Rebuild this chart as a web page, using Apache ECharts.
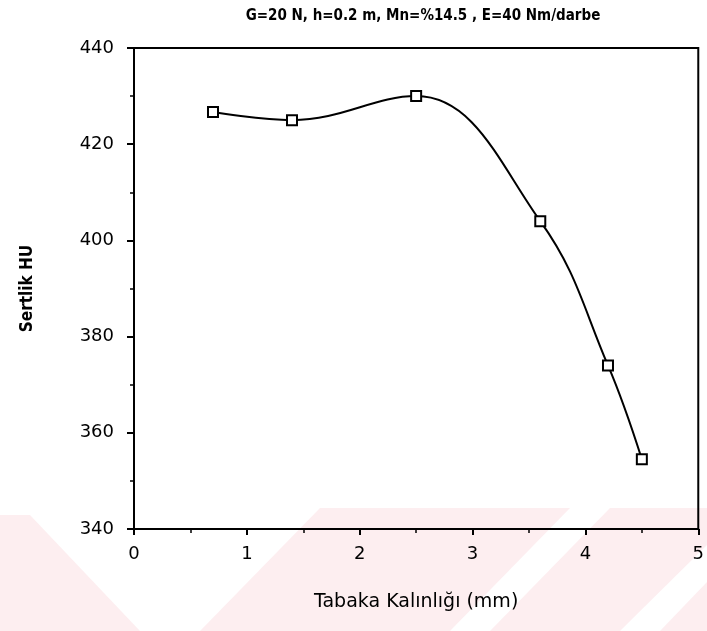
<!DOCTYPE html>
<html>
<head>
<meta charset="utf-8">
<script src="https://cdn.jsdelivr.net/npm/echarts@6/dist/echarts.min.js"></script>
<style>
  html, body { margin: 0; padding: 0; background: #fff; }
  #chart { width: 707px; height: 631px; }
</style>
</head>
<body>
<div id="chart"></div>
<script>
  // veriler
  var thickness = [0.7, 1.4, 2.5, 3.6, 4.2, 4.5];
  var hardness = [426.7, 425.0, 430.0, 404.0, 374.0, 354.5];
  var titleText = 'G=20 N, h=0.2 m, Mn=%14.5 , E=40 Nm/darbe';
  var xName = 'Tabaka Kalınlığı (mm)';
  var yName = 'Sertlik HU';

  var chart = echarts.init(document.getElementById('chart'));
  var pink = 'rgba(235, 40, 60, 0.08)';

  var points = thickness.map(function (x, i) { return [x, hardness[i]]; });

  var option = {
    backgroundColor: '#fff',
    animation: false,
    // arka plandaki soluk filigran
    graphic: [
      { type: 'polygon', z: -10, shape: { points: [[0, 515], [30, 515], [140, 631], [0, 631]] }, style: { fill: pink } },
      { type: 'polygon', z: -10, shape: { points: [[200, 631], [320, 508], [570, 508], [450, 631]] }, style: { fill: pink } },
      { type: 'polygon', z: -10, shape: { points: [[490, 631], [610, 508], [707, 508], [707, 545], [620, 631]] }, style: { fill: pink } },
      { type: 'polygon', z: -10, shape: { points: [[660, 631], [707, 582], [707, 631]] }, style: { fill: pink } }
    ],
    title: {
      text: titleText,
      left: 418,
      textAlign: 'center',
      top: 4,
      textStyle: {
        fontFamily: 'DejaVu Sans Condensed',
        fontWeight: 'bold',
        fontSize: 15,
        color: '#000'
      }
    },
    grid: {
      left: 134,
      right: 3,
      top: 48,
      bottom: 102,
      show: true,
      borderColor: '#000',
      borderWidth: 2,
      backgroundColor: 'transparent'
    },
    xAxis: {
      type: 'value',
      min: 0,
      max: 5,
      interval: 1,
      name: xName,
      nameLocation: 'middle',
      nameGap: 64,
      nameTextStyle: { color: '#000', fontSize: 19, fontFamily: 'DejaVu Sans' },
      axisLine: { lineStyle: { color: '#000', width: 2 } },
      axisTick: { inside: false, length: 6, lineStyle: { color: '#000', width: 2 } },
      minorTick: { show: true, splitNumber: 2, length: 4, lineStyle: { color: '#000', width: 1.5 } },
      axisLabel: { color: '#000', fontSize: 18, margin: 16, fontFamily: 'DejaVu Sans' },
      splitLine: { show: false }
    },
    yAxis: {
      type: 'value',
      min: 340,
      max: 440,
      interval: 20,
      name: yName,
      nameLocation: 'middle',
      nameGap: 98,
      nameRotate: 90,
      nameTextStyle: { color: '#000', fontSize: 17, fontWeight: 'bold', fontFamily: 'DejaVu Sans Condensed' },
      axisLine: { lineStyle: { color: '#000', width: 2 } },
      axisTick: { inside: false, length: 7, lineStyle: { color: '#000', width: 2 } },
      minorTick: { show: true, splitNumber: 2, length: 4, lineStyle: { color: '#000', width: 1.5 } },
      axisLabel: { color: '#000', fontSize: 18, margin: 20, fontFamily: 'DejaVu Sans' },
      splitLine: { show: false }
    },
    series: [{
      type: 'line',
      data: points,
      smooth: 0.4,
      symbol: 'rect',
      symbolSize: 10,
      lineStyle: { color: '#000', width: 2 },
      itemStyle: { color: '#fff', borderColor: '#000', borderWidth: 2 }
    }]
  };

  chart.setOption(option);
</script>
</body>
</html>
